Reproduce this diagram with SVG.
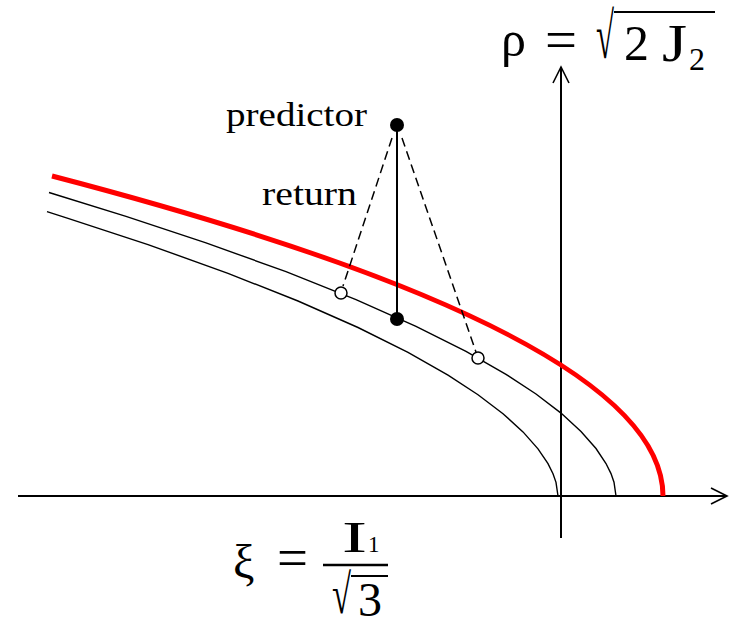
<svg xmlns="http://www.w3.org/2000/svg" width="731" height="628" viewBox="0 0 731 628">
<style>
.ax{stroke:#000;stroke-width:2;fill:none}
.thin{stroke:#000;stroke-width:1.4;fill:none}
.red{stroke:#f00;stroke-width:5;fill:none}
.dash{stroke:#000;stroke-width:1.5;stroke-dasharray:9,5;fill:none}
.t{font-family:"Liberation Serif","Times New Roman",serif;fill:#000}
</style>
<defs>
<marker id="arr" viewBox="0 0 20 20" refX="18" refY="10" markerWidth="20" markerHeight="20" markerUnits="userSpaceOnUse" orient="auto">
<path d="M2,2 L18,10 L2,18 M18,10" fill="none" stroke="#000" stroke-width="1.6"/>
</marker>
</defs>
<rect width="731" height="628" fill="#fff"/>
<g id="connectors">
<line id="xaxis" class="ax" x1="18" y1="496" x2="727" y2="496" marker-end="url(#arr)"/>
<line id="yaxis" class="ax" x1="561" y1="538" x2="561" y2="67" marker-end="url(#arr)"/>
<path id="inner" class="thin" d="M47,211.7 L68,218.3 L148,244.6 L228,273.3 L298,301 L358,327.5 L408,352.3 L448,375.2 L478,394.7 L503,413.7 L523,431.9 L538,448.9 L548,463.7 L553,473.8 L556,482.3 L558,496"/>
<path id="middle" class="thin" d="M49,192.5 L126,216.4 L206,242.8 L286,271.7 L356,299.6 L416,326.3 L466,351.4 L506,374.3 L536,394 L561,413.1 L581,431.5 L596,448.5 L606,463.5 L611,473.6 L614,482.2 L616,496"/>
<path id="yield" class="red" d="M52,176 Q663,335.5 663,496"/>
<line class="thin" x1="397" y1="125" x2="397" y2="319" style="stroke-width:2"/>
<line class="dash" x1="392" y1="138" x2="343" y2="286"/>
<line class="dash" x1="402" y1="138" x2="476" y2="352"/>
</g>
<g id="predictor-point"><circle cx="397" cy="125" r="7" fill="#000"/></g>
<g id="return-point"><circle cx="397" cy="319" r="7" fill="#000"/></g>
<g id="open-left"><circle cx="341" cy="293" r="6" fill="#fff" stroke="#000" stroke-width="1.5"/></g>
<g id="open-right"><circle cx="478" cy="358" r="6" fill="#fff" stroke="#000" stroke-width="1.5"/></g>
<g id="labels">
<text class="t" x="226" y="126" font-size="34" textLength="141" lengthAdjust="spacingAndGlyphs">predictor</text>
<text class="t" x="262" y="205" font-size="34" textLength="95" lengthAdjust="spacingAndGlyphs">return</text>
</g>
<g id="rho-formula">
<text class="t" x="501" y="56" font-size="50">ρ</text>
<text class="t" x="545" y="59" font-size="58" textLength="32" lengthAdjust="spacingAndGlyphs">=</text>
<text class="t" transform="translate(596,58) scale(1,1.3)" x="0" y="0" font-size="50" textLength="18" lengthAdjust="spacingAndGlyphs">√</text>
<line x1="614" y1="12" x2="715" y2="12" stroke="#000" stroke-width="2"/>
<text class="t" x="624" y="60" font-size="50">2</text>
<text class="t" x="662" y="61" font-size="52" textLength="25" lengthAdjust="spacingAndGlyphs">J</text>
<text class="t" x="689" y="70" font-size="32">2</text>
</g>
<g id="xi-formula">
<text class="t" x="233" y="578" font-size="48">ξ</text>
<text class="t" x="277" y="577" font-size="58" textLength="31" lengthAdjust="spacingAndGlyphs">=</text>
<line x1="323" y1="565" x2="388" y2="565" stroke="#000" stroke-width="2.5"/>
<text class="t" x="342" y="552" font-size="44" textLength="25" lengthAdjust="spacingAndGlyphs">I</text>
<text class="t" x="368" y="552" font-size="23">1</text>
<text class="t" transform="translate(332,613) scale(1,1.2)" x="0" y="0" font-size="46" textLength="19" lengthAdjust="spacingAndGlyphs">√</text>
<line x1="351" y1="576" x2="388" y2="576" stroke="#000" stroke-width="2"/>
<text class="t" x="358" y="616" font-size="48">3</text>
</g>
</svg>
